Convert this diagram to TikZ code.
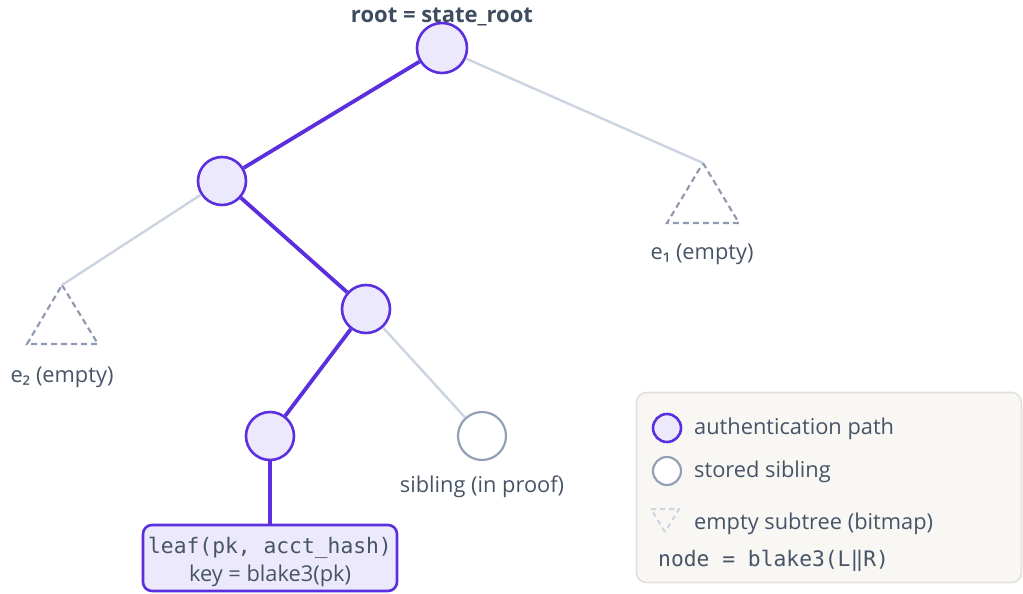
\documentclass[tikz,border=0pt]{standalone}
\usepackage{fontspec}
\setmainfont{Open Sans}
\newfontfamily\subfont{Noto Sans}
\newfontfamily\codefont{DejaVu Sans Mono}
\definecolor{pathstroke}{RGB}{91,46,222}
\definecolor{pathfill}{RGB}{237,233,252}
\definecolor{sibstroke}{RGB}{148,160,180}
\definecolor{edgegray}{RGB}{203,212,224}
\definecolor{dashgray}{RGB}{143,155,176}
\definecolor{textgray}{RGB}{71,84,103}
\definecolor{titlegray}{RGB}{62,76,94}
\definecolor{legendfill}{RGB}{248,247,243}
\definecolor{legendstroke}{RGB}{226,225,219}
\begin{document}
\begin{tikzpicture}[x=1pt,y=-1pt,
  authnode/.style={circle,draw=pathstroke,fill=pathfill,line width=2.6pt,minimum size=#1,inner sep=0pt},
  authnode/.default=48pt,
  sibnode/.style={circle,draw=sibstroke,fill=white,line width=2.2pt,minimum size=#1,inner sep=0pt},
  sibnode/.default=48pt,
  authedge/.style={draw=pathstroke,line width=3.8pt},
  plainedge/.style={draw=edgegray,line width=2.4pt},
  emptytri/.style={draw=dashgray,line width=2.2pt,dash pattern=on 6pt off 4pt},
  lbl/.style={text=textgray,font=\fontsize{21.8}{24}\selectfont,inner sep=0pt},
  codelbl/.style={text=textgray,font=\codefont\fontsize{21.3}{24}\selectfont,inner sep=0pt}
]
\useasboundingbox (0,0) rectangle (1023,594);

% title
\node[text=titlegray,font=\bfseries\fontsize{22}{24}\selectfont,inner sep=0pt] (title) at (442,17) {root = state\_root};

% empty subtrees
\coordinate (e1top) at (703,163);
\draw[emptytri] (e1top) -- (739,223) -- (667,223) -- cycle;
\node[lbl] (e1lbl) at (702,254) {e{\subfont ₁} (empty)};
\coordinate (e2top) at (62,285);
\draw[emptytri] (e2top) -- (98,344) -- (27,344) -- cycle;
\node[lbl] (e2lbl) at (62,377) {e{\subfont ₂} (empty)};

% tree nodes
\node[authnode=50pt] (root) at (442,48) {};
\node[authnode] (n1) at (222,181) {};
\node[authnode] (n2) at (366,309) {};
\node[authnode] (n3) at (270,436) {};
\node[sibnode] (sib) at (482,436) {};
\node[lbl] (siblbl) at (482,487) {sibling (in proof)};

% leaf
\node[draw=pathstroke,fill=pathfill,line width=2.6pt,rounded corners=9pt,
      minimum width=254pt,minimum height=66pt,inner sep=0pt] (leaf) at (270,558) {};
\node[codelbl] (leafa) at (270,548) {leaf(pk, acct\_hash)};
\node[lbl] (leafb) at (270,576) {key = blake3(pk)};

% edges
\draw[plainedge] (root) -- (e1top);
\draw[plainedge] (n1) -- (e2top);
\draw[plainedge] (n2) -- (sib);
\draw[authedge] (root) -- (n1);
\draw[authedge] (n1) -- (n2);
\draw[authedge] (n2) -- (n3);
\draw[authedge] (n3) -- (leaf);

% legend
\node[draw=legendstroke,fill=legendfill,line width=1.6pt,rounded corners=10pt,
      minimum width=385pt,minimum height=190pt,inner sep=0pt] (legend) at (829,487.5) {};
\node[authnode=28pt,line width=2.6pt] (lgauth) at (667,428) {};
\node[lbl,anchor=west] (lgauthtxt) at (694,429) {authentication path};
\node[sibnode=28pt] (lgsib) at (667,471) {};
\node[lbl,anchor=west] (lgsibtxt) at (694,472) {stored sibling};
\coordinate (lgtri) at (665,532);
\draw[draw=edgegray,line width=2pt,dash pattern=on 5pt off 4pt] (lgtri) -- (651,509) -- (679,509) -- cycle;
\node[lbl,anchor=west] (lgtritxt) at (694,524) {empty subtree (bitmap)};
\node[codelbl,anchor=west] (lgnode) at (658,561) {node = blake3(L‖R)};
\end{tikzpicture}
\end{document}
